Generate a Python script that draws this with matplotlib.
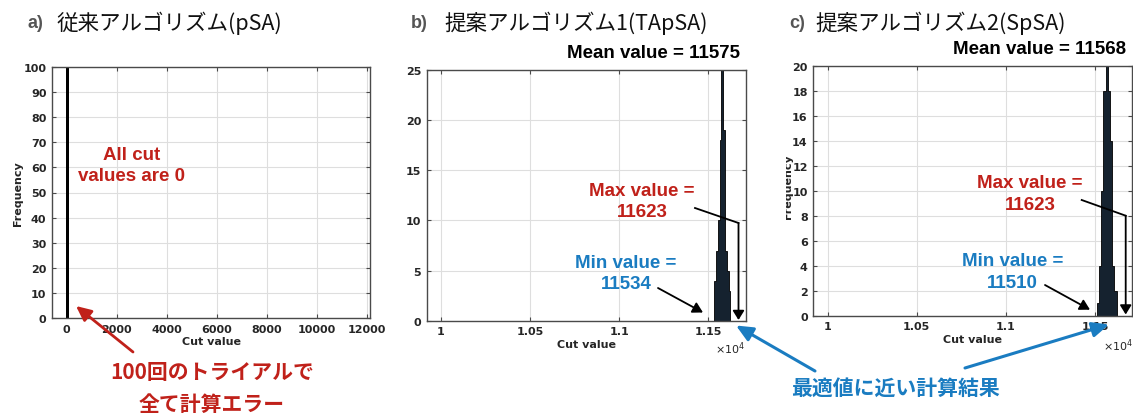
import matplotlib
matplotlib.use("Agg")
import matplotlib.pyplot as plt
from matplotlib.transforms import Bbox
from matplotlib.lines import Line2D
from matplotlib.patches import FancyArrowPatch

# ---------------- data ----------------
a_edges = [-0.5, 0.5]
a_counts = [100]

b_edges = [11534, 11544, 11554, 11564, 11574, 11584, 11594, 11604, 11614, 11624]
b_counts = [4, 7, 10, 18, 27, 19, 7, 5, 3]

c_edges = [11510, 11522.5, 11535, 11547.5, 11560, 11572.5, 11585, 11597.5, 11610, 11622.5]
c_counts = [1, 4, 10, 18, 29, 18, 14, 4, 2]

a_xticks = [0, 2000, 4000, 6000, 8000, 10000, 12000]
a_yticks = [0, 10, 20, 30, 40, 50, 60, 70, 80, 90, 100]
bc_xticks = [10000, 10500, 11000, 11500]
bc_xticklabels = ["1", "1.05", "1.1", "1.15"]
b_yticks = [0, 5, 10, 15, 20, 25]
c_yticks = [0, 2, 4, 6, 8, 10, 12, 14, 16, 18, 20]

panel_letters = ["a)", "b)", "c)"]
panel_titles = ["従来アルゴリズム(pSA)", "提案アルゴリズム1(TApSA)", "提案アルゴリズム2(SpSA)"]
b_mean, c_mean = 11575, 11568
b_max, b_min = 11623, 11534
c_max, c_min = 11623, 11510

# ---------------- style ----------------
W, H = 1133, 414
RED = "#c0211a"
BLUE = "#1a7cc1"
BAR = "#15222f"
TXT = "#262626"
SPINE = "#4a4a4a"
CJK = ["Noto Sans CJK JP", "DejaVu Sans"]
ANN = ["Liberation Sans", "DejaVu Sans"]

fig = plt.figure(figsize=(W / 100, H / 100), dpi=100)
fig.patch.set_facecolor("white")


def P(x, y):
    return (x / W, 1 - y / H)


def make_ax(l, r, t, b):
    ax = fig.add_axes([l / W, 1 - b / H, (r - l) / W, (b - t) / H])
    ax.set_facecolor("white")
    for s in ax.spines.values():
        s.set_color(SPINE)
        s.set_linewidth(1.0)
    ax.tick_params(direction="in", length=3, width=0.8, colors=SPINE,
                   top=True, right=True, labelsize=8, labelcolor=TXT, pad=4)
    ax.grid(True, color="#dedede", linewidth=0.8)
    ax.set_axisbelow(True)
    return ax


def style_labels(ax):
    for lab in ax.get_xticklabels() + ax.get_yticklabels():
        lab.set_fontweight("bold")
        lab.set_family("DejaVu Sans")


# ---------------- panel a ----------------
axa = make_ax(52, 370, 68, 319)
axa.stairs(a_counts, a_edges, fill=True, facecolor=BAR, edgecolor="black", linewidth=1.8)
axa.set_xlim(-590, 12130)
axa.set_ylim(0, 100)
axa.set_xticks(a_xticks)
axa.set_yticks(a_yticks)
style_labels(axa)
axa.set_xlabel("Cut value", fontsize=8, fontweight="bold", color=TXT, labelpad=2)
axa.set_ylabel("Frequency", fontsize=8, fontweight="bold", color=TXT)
axa.yaxis.set_label_coords((22.5 - 52) / 318, 0.5)

# ---------------- panel b ----------------
axb = make_ax(426.7, 745.7, 71, 321.7)
axb.stairs(b_counts, b_edges, fill=True, facecolor=BAR, edgecolor="black", linewidth=0.6)
axb.set_xlim(9920, 11710)
axb.set_ylim(0, 25)
axb.set_xticks(bc_xticks)
axb.set_xticklabels(bc_xticklabels)
axb.set_yticks(b_yticks)
style_labels(axb)
axb.set_xlabel("Cut value", fontsize=8, fontweight="bold", color=TXT, labelpad=2)

# ---------------- panel c ----------------
axc = make_ax(813.3, 1132.3, 66.7, 316.7)
axc.stairs(c_counts, c_edges, fill=True, facecolor=BAR, edgecolor="black", linewidth=0.6)
axc.set_xlim(9920, 11710)
axc.set_ylim(0, 20)
axc.set_xticks(bc_xticks)
axc.set_xticklabels(bc_xticklabels)
axc.set_yticks(c_yticks)
style_labels(axc)
axc.set_xlabel("Cut value", fontsize=8, fontweight="bold", color=TXT, labelpad=2)
ylc = axc.set_ylabel("Frequency", fontsize=8, fontweight="bold", color=TXT)
axc.yaxis.set_label_coords((792.5 - 813.3) / 319, 0.52)
ylc.set_clip_box(Bbox.from_extents(785.5, 0, W, H))
ylc.set_clip_on(True)

# x10^4 multipliers
fig.text(*P(730, 349), r"$\times10^{4}$", ha="center", va="center", fontsize=8, color=TXT)
fig.text(*P(1118, 346), r"$\times10^{4}$", ha="center", va="center", fontsize=8, color=TXT)

# ---------------- titles ----------------
letter_x = [28, 411, 789]
title_x = [57, 444, 815]
for lx, tx, letter, title in zip(letter_x, title_x, panel_letters, panel_titles):
    fig.text(*P(lx, 23), letter, ha="left", va="center", fontsize=13,
             fontweight="bold", color="#555555", family=["Liberation Sans", "DejaVu Sans"])
    fig.text(*P(tx, 23), title, ha="left", va="center", fontsize=15.5,
             color="#111111", family=CJK)

fig.text(*P(740, 53), f"Mean value = {b_mean}", ha="right", va="center",
         fontsize=13.5, fontweight="bold", color="black", family=ANN)
fig.text(*P(1126, 50), f"Mean value = {c_mean}", ha="right", va="center",
         fontsize=13.5, fontweight="bold", color="black", family=ANN)

# ---------------- annotations ----------------
def t(x, y, s, color, size=13.5, fam=ANN):
    fig.text(*P(x, y), s, ha="center", va="center", fontsize=size,
             fontweight="bold", color=color, family=fam)

t(132, 156, "All cut", RED)
t(132, 177, "values are 0", RED)
t(212, 373, "100回のトライアルで", RED, 15, CJK)
t(212, 404, "全て計算エラー", RED, 15, CJK)

t(641.5, 192, "Max value =", RED)
t(642, 213, f"{b_max}", RED)
t(625.5, 263, "Min value =", BLUE)
t(626, 285, f"{b_min}", BLUE)

t(1030, 184, "Max value =", RED)
t(1030, 206, f"{c_max}", RED)
t(1012.5, 261, "Min value =", BLUE)
t(1012.5, 283, f"{c_min}", BLUE)

t(895, 388, "最適値に近い計算結果", BLUE, 15, CJK)


def arrow(x0, y0, x1, y1, color, lw, hw, hl):
    fig.add_artist(FancyArrowPatch(
        P(x0, y0), P(x1, y1), transform=fig.transFigure,
        arrowstyle=f"-|>,head_width={hw},head_length={hl}", mutation_scale=10,
        color=color, linewidth=lw, shrinkA=0, shrinkB=0, zorder=10))


def seg(x0, y0, x1, y1, color, lw):
    fig.add_artist(Line2D([x0 / W, x1 / W], [1 - y0 / H, 1 - y1 / H],
                          transform=fig.transFigure, color=color, linewidth=lw,
                          solid_capstyle="projecting", zorder=10))


# panel a red arrow
arrow(133, 353, 76, 307, RED, 2.0, 0.42, 0.9)
# panel b black arrows
seg(695, 209, 738.5, 224, "black", 1.3)
arrow(738.5, 224, 738.5, 321, "black", 1.3, 0.34, 0.55)
arrow(658, 289, 703, 313.5, "black", 1.3, 0.34, 0.6)
# panel c black arrows
seg(1081.7, 201, 1125.7, 216.7, "black", 1.3)
arrow(1125.7, 216.7, 1125.7, 315.5, "black", 1.3, 0.34, 0.55)
arrow(1045, 286, 1090, 310.7, "black", 1.3, 0.34, 0.6)
# blue arrows
arrow(815, 372, 736, 326.5, BLUE, 2.2, 0.45, 1.0)
arrow(965, 369, 1109, 325.5, BLUE, 2.2, 0.45, 1.0)

fig.savefig("out.png", dpi=100, facecolor="white")
